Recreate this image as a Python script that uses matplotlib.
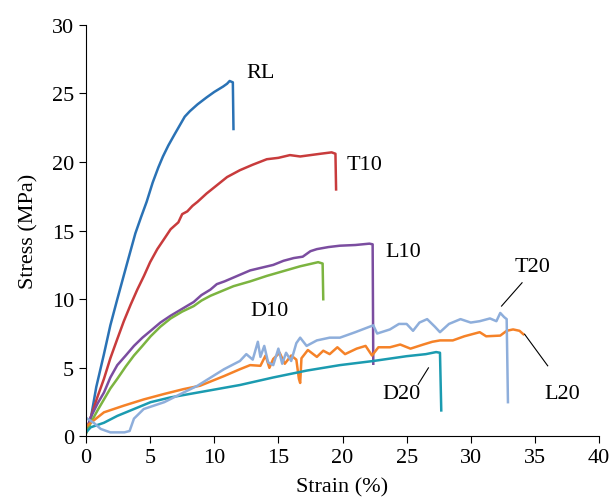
import numpy as np
import matplotlib.pyplot as plt

plt.rcParams['font.family'] = ['Liberation Serif', 'DejaVu Serif']

# Stress-strain curves (strain %, stress MPa)
rl_x = [0, 0.37, 0.8, 1.4, 1.9, 2.44, 3.2, 3.85, 4.3, 4.73, 5.2, 5.64, 6.0, 6.42, 6.9, 7.33, 7.7, 8.1,
        8.7, 9.4, 10.0, 10.7, 11.0, 11.2, 11.45, 11.5]
rl_y = [0.3, 1.3, 3.6, 6.0, 8.1, 10.0, 12.6, 14.8, 16.0, 17.1, 18.5, 19.6, 20.4, 21.2, 22.0, 22.7, 23.3, 23.7,
        24.2, 24.7, 25.1, 25.5, 25.7, 25.9, 25.8, 22.4]

t10_x = [0, 0.37, 0.9, 1.4, 1.9, 2.44, 2.95, 3.48, 4.0, 4.52, 5.0, 5.56, 6.1, 6.6, 7.2, 7.5, 7.9, 8.3, 8.7,
         9.4, 10.2, 11.0, 12.0, 13.0, 14.1, 15.0, 15.9, 16.7, 17.5, 18.3, 19.15, 19.45, 19.5]
t10_y = [0.3, 1.4, 2.9, 4.2, 5.7, 7.1, 8.4, 9.6, 10.7, 11.7, 12.7, 13.65, 14.4, 15.1, 15.6, 16.2, 16.4, 16.8, 17.1,
         17.7, 18.3, 18.9, 19.4, 19.8, 20.2, 20.3, 20.5, 20.4, 20.5, 20.6, 20.7, 20.6, 18.0]

l10_x = [0, 0.37, 0.9, 1.4, 1.9, 2.44, 3.1, 3.74, 4.4, 5.04, 5.8, 6.6, 7.5, 8.4, 9.0, 9.7, 10.2, 10.8, 11.8,
         12.8, 13.7, 14.6, 15.4, 16.2, 16.9, 17.5, 18.0, 18.9, 19.8, 21.0, 22.1, 22.35, 22.4]
l10_y = [0.3, 1.4, 2.4, 3.2, 4.3, 5.2, 5.9, 6.6, 7.2, 7.7, 8.3, 8.8, 9.3, 9.8, 10.3, 10.7, 11.1, 11.3, 11.7,
         12.1, 12.3, 12.5, 12.8, 13.0, 13.1, 13.5, 13.65, 13.8, 13.9, 13.95, 14.05, 14.0, 5.3]

d10_x = [0, 0.37, 0.9, 1.4, 1.9, 2.44, 3.1, 3.74, 4.4, 5.04, 5.8, 6.6, 7.5, 8.4, 9.0, 9.7, 10.6, 11.5,
         12.8, 14.1, 15.4, 16.7, 17.4, 18.1, 18.45, 18.5]
d10_y = [0.2, 1.0, 1.9, 2.7, 3.5, 4.2, 5.1, 5.9, 6.6, 7.3, 8.0, 8.6, 9.1, 9.5, 9.9, 10.25, 10.6, 10.95,
         11.3, 11.7, 12.05, 12.4, 12.55, 12.7, 12.6, 10.0]

d20_x = [0, 0.37, 1.4, 2.44, 3.74, 5.04, 6.6, 8.4, 10.2, 12.0, 14.6, 17.2, 19.8, 22.4, 25.0, 26.5, 27.3, 27.6, 27.7]
d20_y = [0.3, 0.67, 1.0, 1.5, 2.0, 2.5, 2.85, 3.15, 3.45, 3.75, 4.3, 4.8, 5.2, 5.5, 5.85, 6.0, 6.15, 6.1, 1.9]

l20_x = [0.1, 1.4, 2.96, 4.5, 6.1, 7.6, 8.9, 10.76, 12.0, 12.8, 13.6, 14.0, 14.3, 14.6, 15.1, 15.5, 16.0,
         16.4, 16.6, 16.7, 16.8, 17.3, 18.0, 18.5, 19.0, 19.6, 20.2, 21.1, 21.8, 22.3, 22.8, 23.7, 24.5,
         25.3, 26.3, 27.0, 27.6, 28.6, 29.5, 30.7, 31.2, 32.3, 32.8, 33.3, 33.8, 34.1]
l20_y = [0.8, 1.76, 2.25, 2.7, 3.1, 3.45, 3.7, 4.4, 4.9, 5.2, 5.15, 5.9, 5.0, 5.65, 6.1, 5.3, 5.9,
         5.6, 4.2, 3.9, 5.7, 6.3, 5.8, 6.25, 6.0, 6.5, 6.0, 6.4, 6.6, 5.9, 6.5, 6.5, 6.7,
         6.4, 6.7, 6.9, 7.0, 7.0, 7.3, 7.6, 7.3, 7.35, 7.7, 7.8, 7.7, 7.45]

t20_x = [0.1, 0.6, 1.15, 1.9, 3.0, 3.4, 3.74, 4.5, 6.1, 7.6, 8.7, 10.76, 12.0, 12.5, 13.0, 13.4, 13.6, 13.9,
         14.2, 14.6, 15.0, 15.3, 15.6, 16.0, 16.4, 16.7, 17.2, 18.0, 19.0, 19.8, 21.0, 22.4, 22.7, 23.7,
         24.4, 25.0, 25.5, 26.0, 26.6, 27.2, 27.6, 28.3, 29.2, 30.0, 30.7, 31.5, 32.0, 32.3, 32.6, 32.8, 32.9]
t20_y = [1.3, 1.0, 0.55, 0.3, 0.3, 0.4, 1.3, 2.0, 2.5, 3.2, 3.7, 4.9, 5.5, 6.0, 5.6, 6.9, 5.8, 6.6,
         5.4, 5.2, 6.4, 5.3, 6.1, 5.5, 6.8, 7.2, 6.6, 7.0, 7.2, 7.2, 7.6, 8.1, 7.5, 7.8,
         8.2, 8.2, 7.7, 8.3, 8.55, 8.0, 7.6, 8.2, 8.55, 8.3, 8.4, 8.6, 8.4, 9.0, 8.7, 8.55, 2.5]

fig = plt.figure(figsize=(6.09, 5.02), dpi=100)
ax = fig.add_axes([0.1412, 0.1285, 0.8424, 0.8203])

lw = 1.8
ax.plot(rl_x, rl_y, color='#2a72b5', lw=lw)
ax.plot(t10_x, t10_y, color='#c83b3c', lw=lw)
ax.plot(l10_x, l10_y, color='#7b4da0', lw=lw)
ax.plot(d10_x, d10_y, color='#7cb440', lw=lw)
ax.plot(l20_x, l20_y, color='#f58228', lw=lw)
ax.plot(d20_x, d20_y, color='#1b9bb0', lw=lw)
ax.plot(t20_x, t20_y, color='#8eaedb', lw=lw)

fs = 16
ax.text(13.6, 26.5, 'RL', fontsize=fs, ha='center', va='center')
ax.text(21.7, 19.85, 'T10', fontsize=fs, ha='center', va='center')
ax.text(24.7, 13.5, 'L10', fontsize=fs, ha='center', va='center')
ax.text(14.3, 9.2, 'D10', fontsize=fs, ha='center', va='center')
ax.text(34.8, 12.4, 'T20', fontsize=fs, ha='center', va='center')
ax.text(24.6, 3.1, 'D20', fontsize=fs, ha='center', va='center')
ax.text(37.1, 3.1, 'L20', fontsize=fs, ha='center', va='center')

# leader lines
ax.plot([32.4, 34.0], [9.5, 11.2], color='black', lw=0.8)
ax.plot([25.9, 26.7], [3.8, 5.0], color='black', lw=0.8)
ax.plot([34.2, 36.0], [7.45, 5.15], color='black', lw=0.8)

ax.set_xlim(0, 40)
ax.set_ylim(0, 30)
ax.set_xticks(np.arange(0, 41, 5))
ax.set_yticks(np.arange(0, 31, 5))
ax.spines['top'].set_visible(False)
ax.spines['right'].set_visible(False)
ax.tick_params(direction='out', length=5, labelsize=fs)
ax.set_xlabel('Strain (%)', fontsize=fs, labelpad=7)
ax.set_ylabel('Stress (MPa)', fontsize=fs, labelpad=10)

plt.savefig('out.png', dpi=100)
